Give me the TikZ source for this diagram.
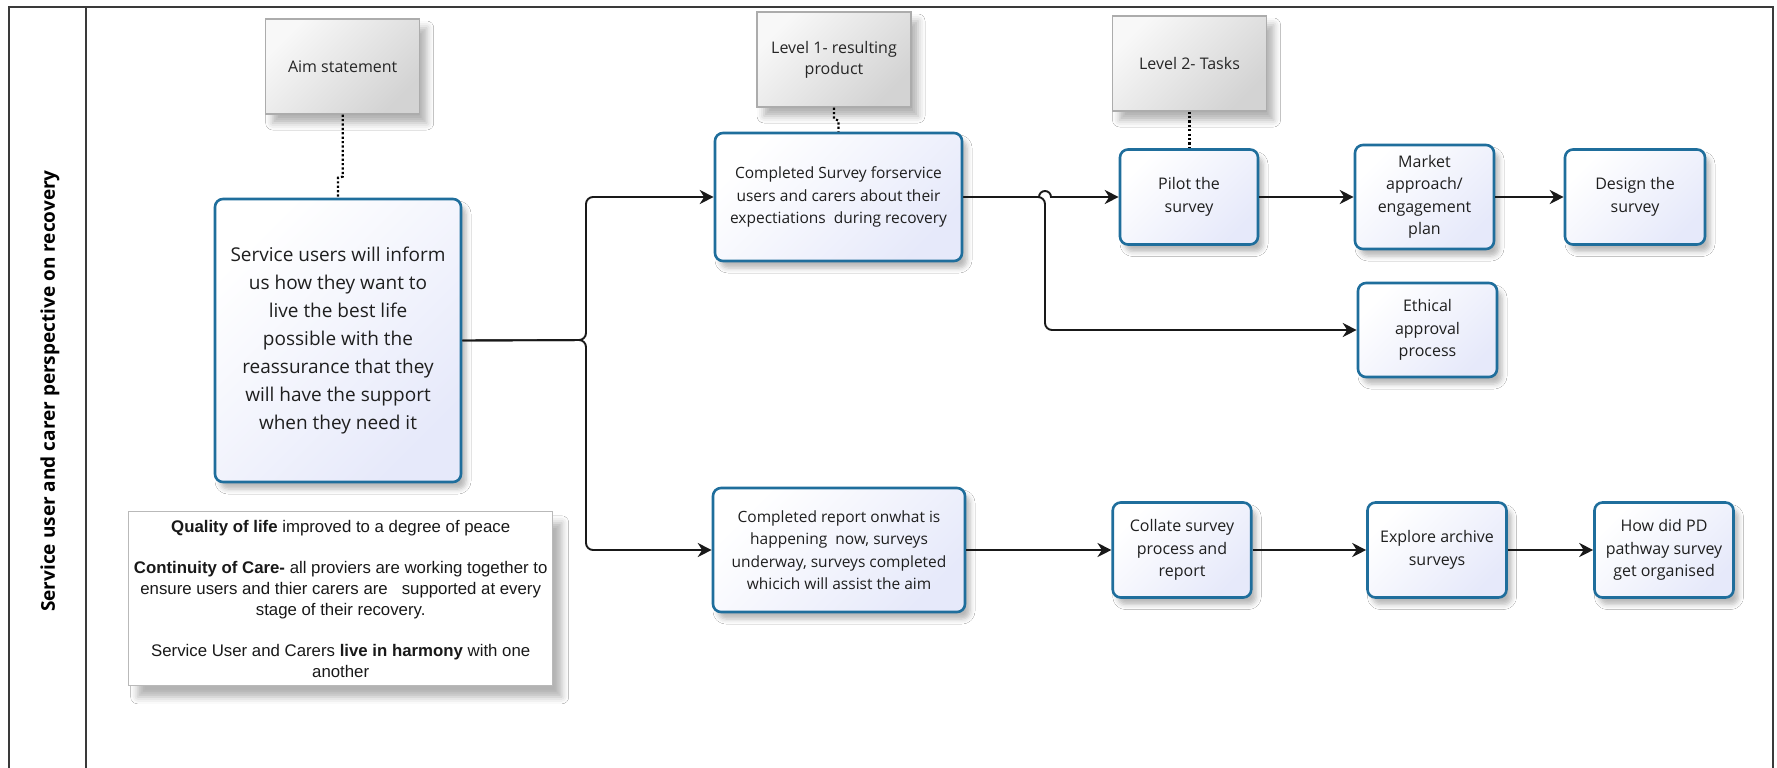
\documentclass[tikz,border=0pt]{standalone}
\usepackage{fontspec}
\setmainfont{Open Sans}
\newfontfamily\legfont{Liberation Sans}
\usetikzlibrary{shadows,shadows.blur,arrows.meta,calc}
\definecolor{tb}{HTML}{1F6E9C}
\definecolor{tfill}{HTML}{E6E9FA}
\definecolor{notel}{HTML}{F8F8F8}
\definecolor{noted}{HTML}{D3D3D3}
\definecolor{framec}{HTML}{3A3A3A}
\tikzset{
  taskbox/.style={draw=tb, line width=2.6pt, rounded corners=8pt,
    top color=white, bottom color=tfill, shading angle=45,
    blur shadow={shadow xshift=5pt, shadow yshift=-7pt, shadow blur radius=5pt, shadow opacity=28},
    align=center, inner sep=2pt, text=black!88,
    font=\fontsize{16}{22.5}\selectfont},
  notebox/.style={draw=gray!65, line width=1.2pt,
    top color=notel, bottom color=noted, shading angle=45,
    blur shadow={shadow xshift=7pt, shadow yshift=-9pt, shadow blur radius=7pt, shadow opacity=30},
    align=center, inner sep=2pt, text=black!85,
    minimum width=154pt, minimum height=95pt,
    font=\fontsize{16}{21}\selectfont},
  legbox/.style={draw=gray!55, line width=1.2pt, fill=white,
    blur shadow={shadow xshift=9pt, shadow yshift=-11pt, shadow blur radius=7pt, shadow opacity=30},
    align=center, inner sep=2pt, text=black!90,
    font=\legfont\fontsize{16.8}{20.7}\selectfont},
  conn/.style={line width=1.9pt, draw=black!90, -{Stealth[length=14pt,width=14pt,inset=4.5pt]}, rounded corners=7pt},
  dotline/.style={line width=2.2pt, dash pattern=on 2.2pt off 2.2pt},
}
\begin{document}
\begin{tikzpicture}[x=1pt,y=-1pt]
\useasboundingbox (0,0) rectangle (1777,768);
\fill[white] (0,0) rectangle (1777,768);
% frame and lane
\draw[framec, line width=1.5pt] (9,768) -- (9,7) -- (1773,7) -- (1773,768);
\draw[framec, line width=1.5pt] (86,7) -- (86,768);
\node[rotate=90, font=\bfseries\fontsize{19}{22}\selectfont] (lane) at (50,391) {Service user and carer perspective on recovery};

% note boxes
\node[notebox] (aimnote) at (342.7,66.5) {Aim statement};
\node[notebox] (lvlone) at (834,59.5) {Level 1- resulting\\product};
\node[notebox] (lvltwo) at (1189.5,63.5) {Level 2- Tasks};

% task boxes
\node[taskbox, minimum width=246pt, minimum height=283pt, font=\fontsize{19}{28}\selectfont] (aim) at (338,340.5)
  {Service users will inform\\us how they want to\\live the best life\\possible with the\\reassurance that they\\will have the support\\when they need it};
\node[taskbox, minimum width=247pt, minimum height=128pt, font=\fontsize{15.5}{22.5}\selectfont] (survey) at (838.5,197)
  {Completed Survey forservice\\users and carers about their\\expectiations\ \ during recovery};
\node[taskbox, minimum width=138pt, minimum height=95pt] (pilot) at (1189,197) {Pilot the\\survey};
\node[taskbox, minimum width=139pt, minimum height=104pt] (market) at (1424.5,197) {Market\\approach/\\engagement\\plan};
\node[taskbox, minimum width=140pt, minimum height=95pt] (design) at (1635,197) {Design the\\survey};
\node[taskbox, minimum width=139pt, minimum height=94pt] (ethical) at (1427.5,330) {Ethical\\approval\\process};
\node[taskbox, minimum width=252pt, minimum height=124pt, font=\fontsize{15.5}{22.5}\selectfont] (report) at (839,550)
  {Completed report onwhat is\\happening\ \ now, surveys\\underway, surveys completed\\whicich will assist the aim};
\node[taskbox, minimum width=138.5pt, minimum height=95pt] (collate) at (1182,550) {Collate survey\\process and\\report};
\node[taskbox, minimum width=139pt, minimum height=95pt] (explore) at (1437,550) {Explore archive\\surveys};
\node[taskbox, minimum width=139pt, minimum height=95pt] (howpd) at (1664,550) {How did PD\\pathway survey\\get organised};

% legend
\node[legbox, minimum width=424pt, minimum height=174pt] (legend) at (340.7,598.8)
  {\textbf{Quality of life} improved to a degree of peace\\[20.7pt]
   \textbf{Continuity of Care-} all proviers are working together to\\
   ensure users and thier carers are\hspace{14pt}supported at every\\
   stage of their recovery.\\[20.7pt]
   Service User and Carers \textbf{live in harmony} with one\\
   another};

% dotted annotation links
\draw[dotline] (aimnote.south) -- ++(0,62) -- ($(aim.north)+(0,-20)$) -- (aim.north);
\draw[dotline] (lvlone.south) -- ++(0,11) -- ($(survey.north)+(0,-11)$) -- (survey.north);
\draw[dotline] (lvltwo.south) -- (lvltwo.south |- pilot.north);

% connectors
\draw[conn] (aim.east) -- (586,340) |- (survey.west);
\draw[conn] (aim.east) -- (586,340) |- (report.west);
\draw[conn] (survey.east) -- (1045,197) |- (ethical.west);
\draw[conn, rounded corners=0pt] (survey.east) -- (1039,197) arc[start angle=180, end angle=360, radius=6] -- (pilot.west);
\draw[conn] (pilot.east) -- (market.west);
\draw[conn] (market.east) -- (design.west);
\draw[conn] (report.east) -- (collate.west);
\draw[conn] (collate.east) -- (explore.west);
\draw[conn] (explore.east) -- (howpd.west);
\end{tikzpicture}
\end{document}
